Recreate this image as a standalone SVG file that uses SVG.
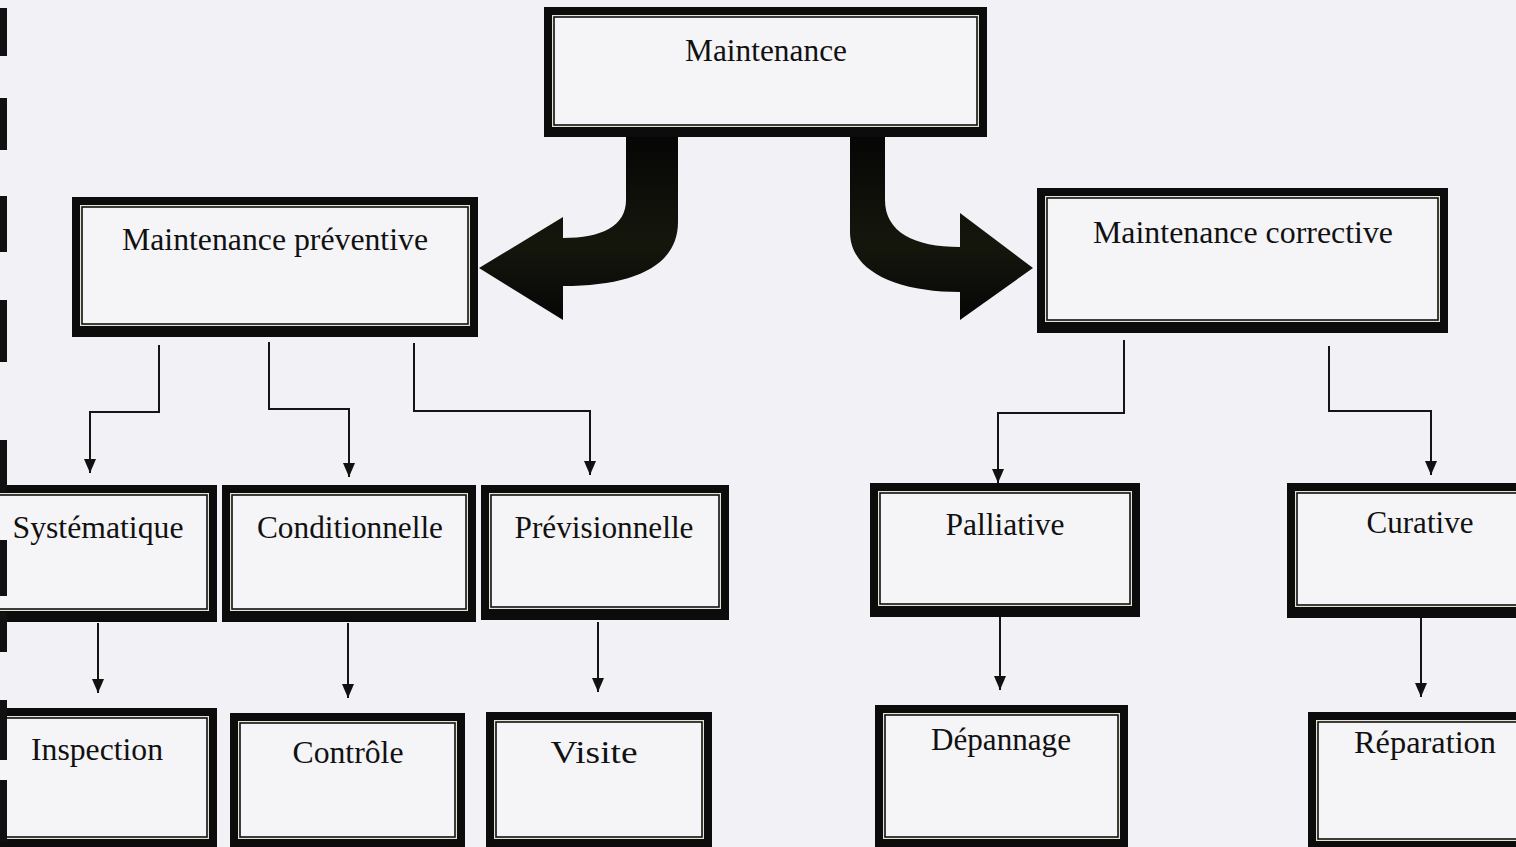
<svg xmlns="http://www.w3.org/2000/svg" width="1516" height="847" viewBox="0 0 1516 847">
<defs>
<style>
.o{fill:#0c0c0c}
.g{fill:#e8e4d4}
.i{fill:#f5f5f8;stroke:#111;stroke-width:1.6}
.t{font-family:"Liberation Serif","Times New Roman",serif;font-size:31px;fill:#111;text-anchor:middle}
.c{fill:none;stroke:#151515;stroke-width:2;marker-end:url(#ah)}
.big{fill:url(#bg)}
.bind{fill:#111}
</style>
<marker id="ah" markerUnits="userSpaceOnUse" markerWidth="14" markerHeight="14" refX="14" refY="6" orient="auto">
<path d="M0,0 L14,6 L0,12 z" fill="#111"/>
</marker>
<linearGradient id="bg" x1="0" y1="0" x2="0" y2="1">
<stop offset="0" stop-color="#050505"/>
<stop offset="0.6" stop-color="#15170d"/>
<stop offset="1" stop-color="#060606"/>
</linearGradient>
</defs>
<rect x="0" y="0" width="1516" height="847" fill="#f2f2f6"/>

<g id="connectors">
<path class="c" d="M159 345 V412 H90 V473"/>
<path class="c" d="M269 342 V409 H349 V477"/>
<path class="c" d="M414 343 V411 H590 V475"/>
<path class="c" d="M1124 340 V413 H998 V483"/>
<path class="c" d="M1329 346 V411 H1431 V475"/>
<path class="c" d="M98 623 V693"/>
<path class="c" d="M348 623 V698"/>
<path class="c" d="M598 622 V692"/>
<path class="c" d="M1000 617 V690"/>
<path class="c" d="M1421 618 V697"/>
<path class="big" d="M626 130 V200 C626 226 602 238 563 238 V217 L479 268 L563 320 V286 C634 286 678 266 678 222 V130 Z"/>
<path class="big" d="M850 130 V232 C850 272 898 292 960 292 V320 L1033 268 L960 213 V247 C914 247 885 232 885 200 V130 Z"/>
</g>

<g id="n-maintenance">
<rect class="o" x="544" y="7" width="443" height="130"/>
<rect class="g" x="552" y="15" width="427" height="112"/>
<rect class="i" x="554" y="17" width="423" height="108"/>
<text class="t" x="766" y="61" textLength="162" lengthAdjust="spacingAndGlyphs">Maintenance</text>
</g>

<g id="n-preventive">
<rect class="o" x="72" y="197" width="406" height="140"/>
<rect class="g" x="80" y="205" width="390" height="121"/>
<rect class="i" x="82" y="207" width="386" height="117"/>
<text class="t" x="275" y="250" textLength="306" lengthAdjust="spacingAndGlyphs">Maintenance préventive</text>
</g>

<g id="n-corrective">
<rect class="o" x="1037" y="188" width="411" height="145"/>
<rect class="g" x="1045" y="196" width="395" height="126"/>
<rect class="i" x="1047" y="198" width="391" height="122"/>
<text class="t" x="1243" y="243" textLength="300" lengthAdjust="spacingAndGlyphs">Maintenance corrective</text>
</g>

<g id="n-systematique">
<rect class="o" x="-20" y="485" width="237" height="137"/>
<rect class="g" x="-12" y="493" width="221" height="118"/>
<rect class="i" x="-10" y="495" width="217" height="114"/>
<text class="t" x="98" y="538" textLength="171" lengthAdjust="spacingAndGlyphs">Systématique</text>
</g>

<g id="n-conditionnelle">
<rect class="o" x="222" y="485" width="254" height="137"/>
<rect class="g" x="230" y="493" width="238" height="118"/>
<rect class="i" x="232" y="495" width="234" height="114"/>
<text class="t" x="350" y="538" textLength="186" lengthAdjust="spacingAndGlyphs">Conditionnelle</text>
</g>

<g id="n-previsionnelle">
<rect class="o" x="481" y="485" width="248" height="135"/>
<rect class="g" x="489" y="493" width="232" height="116"/>
<rect class="i" x="491" y="495" width="228" height="112"/>
<text class="t" x="604" y="538" textLength="179" lengthAdjust="spacingAndGlyphs">Prévisionnelle</text>
</g>

<g id="n-palliative">
<rect class="o" x="870" y="483" width="270" height="134"/>
<rect class="g" x="878" y="491" width="254" height="115"/>
<rect class="i" x="880" y="493" width="250" height="111"/>
<text class="t" x="1005" y="535" textLength="119" lengthAdjust="spacingAndGlyphs">Palliative</text>
</g>

<g id="n-curative">
<rect class="o" x="1287" y="483" width="266" height="135"/>
<rect class="g" x="1295" y="491" width="250" height="116"/>
<rect class="i" x="1297" y="493" width="246" height="112"/>
<text class="t" x="1420" y="533" textLength="107" lengthAdjust="spacingAndGlyphs">Curative</text>
</g>

<g id="n-inspection">
<rect class="o" x="-20" y="708" width="237" height="142"/>
<rect class="g" x="-12" y="716" width="221" height="123"/>
<rect class="i" x="-10" y="718" width="217" height="119"/>
<text class="t" x="97" y="760" textLength="132" lengthAdjust="spacingAndGlyphs">Inspection</text>
</g>

<g id="n-controle">
<rect class="o" x="230" y="713" width="235" height="137"/>
<rect class="g" x="238" y="721" width="219" height="118"/>
<rect class="i" x="240" y="723" width="215" height="114"/>
<text class="t" x="348" y="763" textLength="111" lengthAdjust="spacingAndGlyphs">Contrôle</text>
</g>

<g id="n-visite">
<rect class="o" x="486" y="712" width="226" height="138"/>
<rect class="g" x="494" y="720" width="210" height="119"/>
<rect class="i" x="496" y="722" width="206" height="115"/>
<text class="t" x="594" y="763" textLength="87" lengthAdjust="spacingAndGlyphs">Visite</text>
</g>

<g id="n-depannage">
<rect class="o" x="875" y="705" width="253" height="145"/>
<rect class="g" x="883" y="713" width="237" height="126"/>
<rect class="i" x="885" y="715" width="233" height="122"/>
<text class="t" x="1001" y="750" textLength="140" lengthAdjust="spacingAndGlyphs">Dépannage</text>
</g>

<g id="n-reparation">
<rect class="o" x="1308" y="712" width="234" height="140"/>
<rect class="g" x="1316" y="720" width="218" height="121"/>
<rect class="i" x="1318" y="722" width="214" height="117"/>
<text class="t" x="1425" y="753" textLength="142" lengthAdjust="spacingAndGlyphs">Réparation</text>
</g>

<g id="binding">
<rect class="bind" x="0" y="8" width="7" height="48"/>
<rect class="bind" x="0" y="98" width="7" height="52"/>
<rect class="bind" x="0" y="196" width="7" height="56"/>
<rect class="bind" x="0" y="300" width="7" height="62"/>
<rect class="bind" x="0" y="440" width="7" height="52"/>
<rect class="bind" x="0" y="540" width="7" height="56"/>
<rect class="bind" x="0" y="612" width="7" height="40"/>
<rect class="bind" x="0" y="700" width="7" height="60"/>
<rect class="bind" x="0" y="780" width="7" height="62"/>
</g>
</svg>
